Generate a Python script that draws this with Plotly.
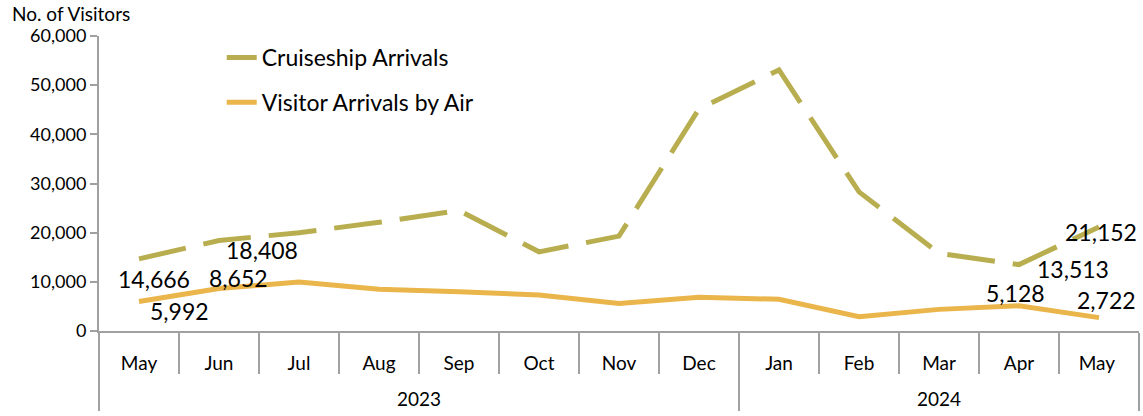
import plotly.graph_objects as go

years = ["<br>2023"] * 8 + ["<br>2024"] * 5
months = ["May", "Jun", "Jul", "Aug", "Sep", "Oct", "Nov", "Dec",
          "Jan", "Feb", "Mar", "Apr", "May "]
cruise = [14666, 18408, 20000, 22100, 24500, 16100, 19300, 45200,
          53100, 28300, 15800, 13513, 21152]
air = [5992, 8652, 9950, 8480, 8000, 7300, 5600, 6850,
       6450, 2900, 4400, 5128, 2722]

# indices of points that carry data labels and their offsets (px)
cruise_lbl = {0: (15, -20), 1: (43, -10), 11: (54, -4), 12: (2, -5)}
air_lbl = {0: (40, -9), 1: (19, 10), 11: (-4, 13), 12: (7, 18)}

FONT = "Lato"
CRUISE_C = "#B8AE50"
AIR_C = "#EAB54A"
AXIS_C = "#A0A0A0"

fig = go.Figure()
fig.add_trace(go.Scatter(
    x=[years, months], y=cruise, mode="lines", name="Cruiseship Arrivals",
    line=dict(color=CRUISE_C, width=5, dash="48px,18px"),
    legendgroup="a"))
fig.add_trace(go.Scatter(
    x=[years, months], y=air, mode="lines", name="Visitor Arrivals by Air",
    line=dict(color=AIR_C, width=5),
    legendgroup="b"))

annotations = []
for series, lbls in ((cruise, cruise_lbl), (air, air_lbl)):
    for i, (dx, dy) in lbls.items():
        annotations.append(dict(
            x=i, y=series[i], xref="x", yref="y", text=f"{series[i]:,}",
            showarrow=False, xshift=dx, yshift=dy,
            font=dict(family=FONT, size=23, color="#000000")))
annotations.append(dict(
    x=0, y=1, xref="paper", yref="paper", xanchor="left", yanchor="bottom",
    xshift=-89, yshift=9, text="No. of Visitors", showarrow=False,
    font=dict(family=FONT, size=19, color="#000000")))

PLOT_H = 416 - 36 - 85
fig.update_layout(
    width=1143, height=416,
    margin=dict(l=99, r=4, t=36, b=85, autoexpand=False),
    paper_bgcolor="white", plot_bgcolor="white",
    font=dict(family=FONT, size=18, color="#000000"),
    showlegend=True,
    legend=dict(x=0.118, y=1.0, xanchor="left", yanchor="top",
                font=dict(family=FONT, size=23, color="#000000"),
                bgcolor="rgba(0,0,0,0)", traceorder="grouped",
                tracegroupgap=12),
    annotations=annotations,
    shapes=[dict(type="line", xref="x", yref="paper",
                 x0=len(months) - 0.5, x1=len(months) - 0.5,
                 y0=0, y1=-79 / PLOT_H,
                 line=dict(color=AXIS_C, width=2))],
    xaxis=dict(
        type="multicategory", showline=True, linecolor=AXIS_C, linewidth=2,
        ticks="outside", tickson="boundaries", ticklen=41,
        tickcolor=AXIS_C, tickwidth=2, ticklabelstandoff=14,
        showdividers=True, dividercolor=AXIS_C, dividerwidth=2,
        showgrid=False, automargin=False,
        tickfont=dict(family=FONT, size=19, color="#000000"),
        range=[-0.5, 12.5]),
    yaxis=dict(
        range=[0, 60000], tickvals=[0, 10000, 20000, 30000, 40000, 50000, 60000],
        tickformat=",", showline=True, linecolor=AXIS_C, linewidth=2,
        ticks="outside", ticklen=7, tickcolor=AXIS_C, tickwidth=2,
        showgrid=False, zeroline=False, automargin=False,
        tickfont=dict(family=FONT, size=18, color="#000000")),
)

fig.write_html("out.html", config={"displayModeBar": False},
               post_script="document.body.style.margin='0px';")
